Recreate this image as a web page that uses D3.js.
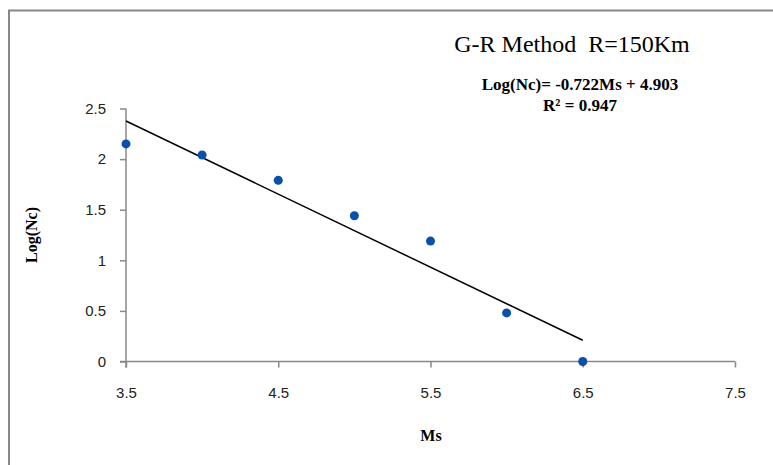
<!DOCTYPE html>
<html>
<head>
<meta charset="utf-8">
<script src="https://cdn.jsdelivr.net/npm/d3@7"></script>
<style>
	body { margin: 0; background: #fff; }
	.tick text { font-family: 'Liberation Sans', Arial, sans-serif; font-size: 15px; fill: #222; }
	text.serif { font-family: 'Liberation Serif', 'Times New Roman', serif; fill: #000; white-space: pre; }
</style>
</head>
<body>
<svg id="chart" width="773" height="465"></svg>
<script>

// data
var msValues = [3.5, 4.0, 4.5, 5.0, 5.5, 6.0, 6.5];
var logNc = [2.15, 2.04, 1.79, 1.44, 1.19, 0.48, 0.0];
var xTicks = [3.5, 4.5, 5.5, 6.5, 7.5];
var yTicks = [0, 0.5, 1, 1.5, 2, 2.5];
var slope = -0.722;
var intercept = 4.903;
var trendRange = [3.5, 6.5];

var svg = d3.select('#chart');
var axisColor = '#888';

// outer frame (runs off the right and bottom edges)
svg.append('rect')
	.attr('x', 9)
	.attr('y', 10.5)
	.attr('width', 800)
	.attr('height', 500)
	.style('fill', 'none')
	.attr('stroke', axisColor)
	.attr('stroke-width', 2);

var xScale = d3.scaleLinear().domain([3.5, 7.5]).range([126, 735]);
var yScale = d3.scaleLinear().domain([0, 2.5]).range([361.5, 108.5]);

var g = svg.append('g');

// x axis
var xAxis = g.append('g')
	.attr('transform', 'translate(0,' + yScale(0) + ')')
	.call(d3.axisBottom(xScale).tickValues(xTicks).tickFormat(d3.format('.1f')).tickSize(6).tickPadding(20));

// y axis
var yAxis = g.append('g')
	.attr('transform', 'translate(' + xScale(3.5) + ',0)')
	.call(d3.axisLeft(yScale).tickValues(yTicks).tickFormat(function(d) { return d; }).tickSize(6).tickPadding(14));

[xAxis, yAxis].forEach(function(a) {
	a.select('.domain').remove();
	a.selectAll('.tick line').attr('stroke', axisColor).attr('stroke-width', 1.5);
});

g.append('line') // bottom line
	.attr('x1', xScale(3.5) - 6)
	.attr('y1', yScale(0))
	.attr('x2', xScale(7.5))
	.attr('y2', yScale(0))
	.attr('stroke', axisColor)
	.attr('stroke-width', 1.5);

g.append('line') // left line
	.attr('x1', xScale(3.5))
	.attr('y1', yScale(2.5))
	.attr('x2', xScale(3.5))
	.attr('y2', yScale(0) + 6)
	.attr('stroke', axisColor)
	.attr('stroke-width', 1.5);

// trend line
g.append('line')
	.attr('x1', xScale(trendRange[0]))
	.attr('y1', yScale(slope * trendRange[0] + intercept))
	.attr('x2', xScale(trendRange[1]))
	.attr('y2', yScale(slope * trendRange[1] + intercept))
	.attr('stroke', '#000')
	.attr('stroke-width', 1.5);

// points
g.selectAll('circle.pt')
	.data(msValues)
	.enter().append('circle')
	.attr('class', 'pt')
	.attr('cx', function(d) { return xScale(d); })
	.attr('cy', function(d, i) { return yScale(logNc[i]); })
	.attr('r', 4.5)
	.style('fill', '#0a4fa8')
	.attr('stroke', 'none');

// titles
svg.append('text')
	.attr('class', 'serif')
	.attr('x', 572)
	.attr('y', 52)
	.attr('text-anchor', 'middle')
	.style('font-size', '24px')
	.text('G-R Method  R=150Km');

svg.append('text')
	.attr('class', 'serif')
	.attr('x', 580)
	.attr('y', 90)
	.attr('text-anchor', 'middle')
	.style('font-size', '17px')
	.style('font-weight', 'bold')
	.text('Log(Nc)= -0.722Ms + 4.903');

svg.append('text')
	.attr('class', 'serif')
	.attr('x', 580)
	.attr('y', 111)
	.attr('text-anchor', 'middle')
	.style('font-size', '17px')
	.style('font-weight', 'bold')
	.text('R² = 0.947');

svg.append('text')
	.attr('class', 'serif')
	.attr('x', 431)
	.attr('y', 441)
	.attr('text-anchor', 'middle')
	.style('font-size', '16px')
	.style('font-weight', 'bold')
	.text('Ms');

svg.append('text')
	.attr('class', 'serif')
	.attr('transform', 'translate(37,235) rotate(-90)')
	.attr('text-anchor', 'middle')
	.style('font-size', '16px')
	.style('font-weight', 'bold')
	.text('Log(Nc)');

</script>
</body>
</html>
